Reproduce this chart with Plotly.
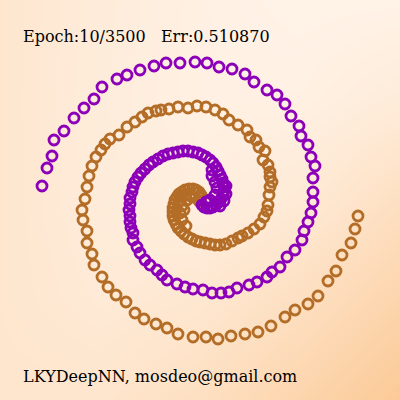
import plotly.graph_objects as go

# 两类螺旋点（从图上读出的坐标，x 向右，y 向下）
purple_pts = [
    (42, 186), (47, 168), (52, 156), (54, 140), (64, 131), (74, 118), (84, 108), (94, 99),
    (102, 87), (117, 79), (127, 75), (140, 70), (154, 66), (166, 63), (180, 63), (195, 62),
    (207, 63), (219, 67), (232, 69), (245, 74), (254, 82), (267, 90), (277, 95), (285, 104),
    (291, 116), (299, 126), (301, 136), (308, 145), (311, 157), (315, 166), (313, 178), (313, 192),
    (313, 202), (311, 213), (308, 222), (304, 231), (302, 240), (295, 250), (287, 257), (280, 267),
    (272, 272), (267, 277), (257, 282), (249, 285), (237, 288), (229, 292), (221, 293), (212, 293),
    (203, 290), (193, 289), (185, 287), (177, 284), (167, 280), (162, 275), (157, 270), (150, 265),
    (145, 260), (140, 253), (137, 247), (133, 240), (133, 233), (131, 228), (130, 222), (130, 216),
    (129, 210), (130, 204), (130, 198), (132, 192), (133, 187), (135, 182), (138, 177), (141, 173),
    (145, 169), (149, 165), (153, 162), (158, 159), (163, 156), (168, 154), (173, 153), (178, 152),
    (183, 151), (188, 151), (193, 152), (198, 153), (202, 155), (206, 157), (210, 160), (213, 163),
    (216, 167), (218, 171), (220, 175), (222, 179), (223, 183), (224, 187), (224, 191), (223, 195),
    (221, 199), (219, 202), (216, 205), (213, 207), (210, 208), (207, 208), (204, 207), (202, 205),
    (212, 176), (215, 182), (217, 188), (215, 195), (210, 200), (206, 202), (226, 186), (226, 194),
    (224, 201), (220, 206), (212, 170),
]

orange_pts = [
    (358, 216), (355, 229), (351, 243), (342, 255), (336, 271), (328, 281), (318, 296), (308, 304),
    (295, 310), (285, 317), (271, 326), (258, 332), (245, 334), (231, 336), (218, 339), (206, 337),
    (193, 337), (178, 334), (167, 328), (156, 324), (144, 319), (135, 313), (126, 302), (116, 295),
    (108, 287), (102, 277), (94, 265), (92, 254), (87, 243), (87, 231), (83, 220), (82, 210),
    (85, 199), (87, 187), (89, 176), (92, 166), (96, 157), (101, 150), (105, 144), (110, 139),
    (119, 135), (127, 127), (135, 122), (142, 117), (148, 113), (156, 111), (161, 110), (169, 109),
    (178, 107), (188, 108), (197, 106), (206, 107), (215, 110), (223, 114), (229, 120), (238, 125),
    (247, 130), (250, 137), (256, 140), (259, 147), (265, 151), (263, 160), (268, 165), (270, 172),
    (270, 177), (272, 182), (270, 187), (269, 195), (268, 205), (267, 211), (264, 217), (260, 224),
    (254, 229), (248, 233), (242, 236), (238, 238), (232, 241), (226, 244), (220, 245), (215, 245),
    (210, 244), (205, 243), (200, 242), (196, 241), (192, 239), (188, 237), (184, 234), (181, 231),
    (178, 228), (176, 224), (174, 220), (173, 216), (173, 212), (173, 208), (174, 204), (175, 200),
    (177, 197), (179, 194), (182, 192), (185, 190), (189, 189), (193, 189), (196, 190), (199, 192),
    (201, 195), (201, 198), (199, 201),
    (186, 226), (182, 220), (180, 213), (182, 206), (187, 200), (192, 197), (180, 200), (186, 195),
    (190, 195), (184, 210),
]

# 背景渐变（0 = 最浅, 1 = 最深）
bg_x = [0, 100, 200, 300, 400]
bg_y = [0, 100, 200, 300, 400]
bg_z = [
    [0.30, 0.18, 0.08, 0.03, 0.04],
    [0.30, 0.17, 0.08, 0.08, 0.18],
    [0.30, 0.18, 0.12, 0.22, 0.44],
    [0.30, 0.22, 0.28, 0.45, 0.68],
    [0.32, 0.32, 0.45, 0.68, 0.92],
]

title_text = "Epoch:10/3500\u00a0\u00a0\u00a0Err:0.510870"
footer_text = "LKYDeepNN, mosdeo@gmail.com"

fig = go.Figure()
fig.add_trace(go.Heatmap(
    x=bg_x, y=bg_y, z=bg_z, zsmooth='best', showscale=False, hoverinfo='skip',
    zmin=0, zmax=1, colorscale=[[0, '#FFF4EA'], [1, '#FBC68F']]))

fig.add_trace(go.Scatter(
    x=[p[0] for p in orange_pts], y=[p[1] for p in orange_pts], mode='markers',
    marker=dict(symbol='circle-open', size=10, color='#B36D27', line=dict(width=2.8))))
fig.add_trace(go.Scatter(
    x=[p[0] for p in purple_pts], y=[p[1] for p in purple_pts], mode='markers',
    marker=dict(symbol='circle-open', size=10, color='#8B00B8', line=dict(width=2.8))))

fig.add_annotation(x=21, y=36, text=title_text, showarrow=False, xanchor='left', yanchor='middle',
                   font=dict(family='DejaVu Serif', size=16, color='black'))
fig.add_annotation(x=21, y=376, text=footer_text, showarrow=False, xanchor='left', yanchor='middle',
                   font=dict(family='DejaVu Serif', size=16, color='black'))

fig.update_layout(
    width=400, height=400, margin=dict(l=0, r=0, t=0, b=0),
    paper_bgcolor='#FDE8D4', plot_bgcolor='#FDE8D4', showlegend=False,
    xaxis=dict(range=[0, 400], visible=False, showgrid=False, zeroline=False),
    yaxis=dict(range=[400, 0], visible=False, showgrid=False, zeroline=False),
)

# 去掉页面默认的 body 边距，让图表贴齐窗口左上角；隐藏工具栏
fig.write_html("out.html", config={'displayModeBar': False},
               post_script="document.body.style.margin='0';")
